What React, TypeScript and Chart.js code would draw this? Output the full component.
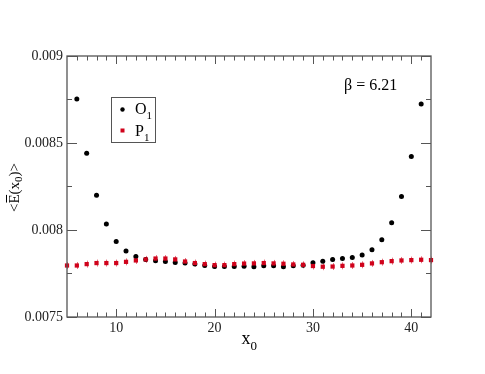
import React, { useEffect, useRef } from "react";
import { Chart, registerables } from "chart.js";

Chart.register(...registerables);

// ---- data ----
const o1X = [6, 7, 8, 9, 10, 11, 12, 13, 14, 15, 16, 17, 18, 19, 20, 21, 22, 23, 24, 25, 26, 27, 28, 29, 30, 31, 32, 33, 34, 35, 36, 37, 38, 39, 40, 41];
const o1Y = [0.008753, 0.008441, 0.0082, 0.008034, 0.007934, 0.007879, 0.007848, 0.007831, 0.007823, 0.007819, 0.007813, 0.00781, 0.007804, 0.007796, 0.00779, 0.00779, 0.00779, 0.007792, 0.007789, 0.007794, 0.007794, 0.007789, 0.007794, 0.007798, 0.007812, 0.007821, 0.007831, 0.007836, 0.007842, 0.007856, 0.007886, 0.007944, 0.008041, 0.008192, 0.008422, 0.008724];
const o1Err = [0.000012, 0.000012, 0.000012, 0.000012, 0.000012, 0.000012, 0.000012, 0.000012, 0.000012, 0.000012, 0.000012, 0.000012, 0.000012, 0.000012, 0.000012, 0.000012, 0.000012, 0.000012, 0.000012, 0.000012, 0.000012, 0.000012, 0.000012, 0.000012, 0.000012, 0.000012, 0.000012, 0.000012, 0.000012, 0.000012, 0.000012, 0.000012, 0.000012, 0.000012, 0.000012, 0.000012];
const p1X = [5, 6, 7, 8, 9, 10, 11, 12, 13, 14, 15, 16, 17, 18, 19, 20, 21, 22, 23, 24, 25, 26, 27, 28, 29, 30, 31, 32, 33, 34, 35, 36, 37, 38, 39, 40, 41, 42];
const p1Y = [0.007796, 0.007796, 0.007804, 0.00781, 0.00781, 0.00781, 0.007817, 0.007825, 0.007831, 0.007836, 0.007836, 0.007831, 0.007819, 0.00781, 0.007804, 0.007798, 0.007798, 0.007804, 0.007807, 0.007808, 0.00781, 0.007808, 0.007806, 0.007802, 0.0078, 0.007793, 0.007789, 0.00779, 0.007794, 0.007796, 0.0078, 0.007808, 0.007815, 0.007821, 0.007825, 0.007827, 0.007829, 0.007827];
const p1Err = [0.00002, 0.00002, 0.00002, 0.00002, 0.00002, 0.00002, 0.00002, 0.00002, 0.00002, 0.00002, 0.00002, 0.00002, 0.00002, 0.00002, 0.00002, 0.00002, 0.00002, 0.00002, 0.00002, 0.00002, 0.00002, 0.00002, 0.00002, 0.00002, 0.00002, 0.00002, 0.00002, 0.00002, 0.00002, 0.00002, 0.00002, 0.00002, 0.00002, 0.00002, 0.00002, 0.00002, 0.00002, 0.00002];

const xMajorTicks = [10, 20, 30, 40];
const xTickLabels = ["10", "20", "30", "40"];
const yMajorTicks = [0.0075, 0.008, 0.0085, 0.009];
const yTickLabels = ["0.0075", "0.008", "0.0085", "0.009"];
const yMinorTicks = [0.00775, 0.00825, 0.00875];
const xMinorTicks = [6, 7, 8, 9, 11, 12, 13, 14, 15, 16, 17, 18, 19, 21, 22, 23, 24, 25, 26, 27, 28, 29, 31, 32, 33, 34, 35, 36, 37, 38, 39, 41];

const seriesNames = ["O", "P"];
const seriesSubs = ["1", "1"];
const annotation = "\u03B2 = 6.21";

const RED = "#d0021b";
const SERIF = "'Liberation Serif', 'DejaVu Serif', serif";

function drawSub(ctx: CanvasRenderingContext2D, main: string, sub: string, x: number, y: number, mainSize: number, subSize: number, drop: number) {
  ctx.font = `${mainSize}px ${SERIF}`;
  ctx.fillText(main, x, y);
  const w = ctx.measureText(main).width;
  ctx.font = `${subSize}px ${SERIF}`;
  ctx.fillText(sub, x + w, y + drop);
  return w + ctx.measureText(sub).width;
}

const framePlugin = {
  id: "frame",
  beforeDatasetsDraw(chart: any) {
    const { ctx, scales } = chart;
    const x = scales.x, y = scales.y;
    ctx.save();
    ctx.lineWidth = 1;
    const bars = [
      { xs: o1X, ys: o1Y, es: o1Err, color: "rgba(60,60,60,0.6)" },
      { xs: p1X, ys: p1Y, es: p1Err, color: "rgba(208,2,27,0.55)" },
    ];
    bars.forEach((b) => {
      ctx.strokeStyle = b.color;
      b.xs.forEach((xv, i) => {
        const px = Math.round(x.getPixelForValue(xv)) + 0.5;
        const y1 = y.getPixelForValue(b.ys[i] - b.es[i]);
        const y2 = y.getPixelForValue(b.ys[i] + b.es[i]);
        ctx.beginPath();
        ctx.moveTo(px, y1);
        ctx.lineTo(px, y2);
        ctx.stroke();
      });
    });
    ctx.restore();
  },
  afterDraw(chart: any) {
    const { ctx, chartArea, scales } = chart;
    const { left, top, right, bottom } = chartArea;
    const x = scales.x, y = scales.y;
    ctx.save();
    ctx.strokeStyle = "#555";
    ctx.lineWidth = 1.3;
    ctx.strokeRect(left, top, right - left, bottom - top);
    ctx.lineWidth = 1;
    const line = (x1: number, y1: number, x2: number, y2: number) => {
      ctx.beginPath();
      ctx.moveTo(x1, y1);
      ctx.lineTo(x2, y2);
      ctx.stroke();
    };
    xMajorTicks.forEach((v) => {
      const p = Math.round(x.getPixelForValue(v)) + 0.5;
      line(p, bottom, p, bottom - 8);
      line(p, top, p, top + 8);
    });
    xMinorTicks.forEach((v) => {
      const p = Math.round(x.getPixelForValue(v)) + 0.5;
      line(p, bottom, p, bottom - 4.5);
      line(p, top, p, top + 4.5);
    });
    yMajorTicks.forEach((v) => {
      const p = Math.round(y.getPixelForValue(v)) + 0.5;
      line(left, p, left + 10, p);
      line(right, p, right - 10, p);
    });
    yMinorTicks.forEach((v) => {
      const p = Math.round(y.getPixelForValue(v)) + 0.5;
      line(left, p, left + 5, p);
      line(right, p, right - 5, p);
    });

    // legend
    ctx.strokeStyle = "#555";
    ctx.strokeRect(111.5, 97.5, 44, 45);
    ctx.fillStyle = "#000";
    ctx.beginPath();
    ctx.arc(122.5, 109.5, 2.2, 0, Math.PI * 2);
    ctx.fill();
    ctx.fillStyle = RED;
    ctx.fillRect(120.5, 128.5, 4, 4);
    ctx.fillStyle = "#000";
    ctx.textAlign = "left";
    ctx.textBaseline = "alphabetic";
    drawSub(ctx, seriesNames[0], seriesSubs[0], 135, 113.5, 16, 11, 5);
    drawSub(ctx, seriesNames[1], seriesSubs[1], 135, 135.5, 16, 11, 5);

    // annotation
    ctx.font = `16px ${SERIF}`;
    ctx.fillText(annotation, 344, 89.5);

    // x title
    drawSub(ctx, "x", "0", 241.5, 343.5, 18, 13, 6);

    // y title (rotated)
    ctx.save();
    ctx.translate(18.5, 212);
    ctx.rotate(-Math.PI / 2);
    ctx.font = `15px ${SERIF}`;
    let cx = 0;
    ctx.fillText("<", cx, 0);
    cx += ctx.measureText("<").width;
    ctx.fillText("E", cx, 0);
    const ew = ctx.measureText("E").width;
    ctx.fillRect(cx + 1, -12.5, ew - 1.5, 1);
    cx += ew;
    ctx.fillText("(x", cx, 0);
    cx += ctx.measureText("(x").width;
    ctx.font = `11px ${SERIF}`;
    ctx.fillText("0", cx, 3.5);
    cx += ctx.measureText("0").width;
    ctx.font = `15px ${SERIF}`;
    ctx.fillText(")>", cx, 0);
    ctx.restore();

    ctx.restore();
  },
};

export default function App() {
  const ref = useRef<HTMLCanvasElement>(null);
  useEffect(() => {
    if (!ref.current) return;
    const chart = new Chart(ref.current, {
      type: "scatter",
      data: {
        datasets: [
          {
            label: "P1",
            data: p1X.map((xv, i) => ({ x: xv, y: p1Y[i] })),
            pointStyle: "rect",
            pointRadius: 3,
            pointBackgroundColor: RED,
            pointBorderWidth: 0,
            backgroundColor: RED,
            borderColor: RED,
            clip: 3,
          },
          {
            label: "O1",
            data: o1X.map((xv, i) => ({ x: xv, y: o1Y[i] })),
            pointStyle: "circle",
            pointRadius: 2.5,
            pointBackgroundColor: "#000",
            pointBorderWidth: 0,
            backgroundColor: "#000",
            borderColor: "#000",
            clip: 3,
          },
        ],
      },
      options: {
        animation: false,
        responsive: true,
        maintainAspectRatio: false,
        layout: { padding: { top: 56, right: 54, left: 0, bottom: 0 } },
        plugins: { legend: { display: false }, tooltip: { enabled: false } },
        scales: {
          x: {
            type: "linear",
            min: 5,
            max: 42,
            grid: { display: false, drawTicks: false },
            border: { display: false },
            afterBuildTicks: (s: any) => {
              s.ticks = xMajorTicks.map((v) => ({ value: v }));
            },
            afterFit: (s: any) => {
              s.height = 57;
            },
            ticks: {
              padding: 3,
              color: "#222",
              font: { family: SERIF, size: 14 },
              maxRotation: 0,
              callback: (v: any) => {
                const i = xMajorTicks.indexOf(v);
                return i >= 0 ? xTickLabels[i] : "";
              },
            },
          },
          y: {
            type: "linear",
            min: 0.0075,
            max: 0.009,
            grid: { display: false, drawTicks: false },
            border: { display: false },
            afterBuildTicks: (s: any) => {
              s.ticks = yMajorTicks.map((v) => ({ value: v }));
            },
            afterFit: (s: any) => {
              s.width = 67;
            },
            ticks: {
              padding: 4,
              color: "#222",
              font: { family: SERIF, size: 14 },
              callback: (v: any) => {
                const i = yMajorTicks.findIndex((t) => Math.abs(t - v) < 1e-9);
                return i >= 0 ? yTickLabels[i] : "";
              },
            },
          },
        },
      },
      plugins: [framePlugin],
    } as any);
    return () => chart.destroy();
  }, []);
  return (
    <div style={{ position: "absolute", left: 0, top: 0, width: 485, height: 374, background: "#fff" }}>
      <canvas ref={ref} />
    </div>
  );
}
